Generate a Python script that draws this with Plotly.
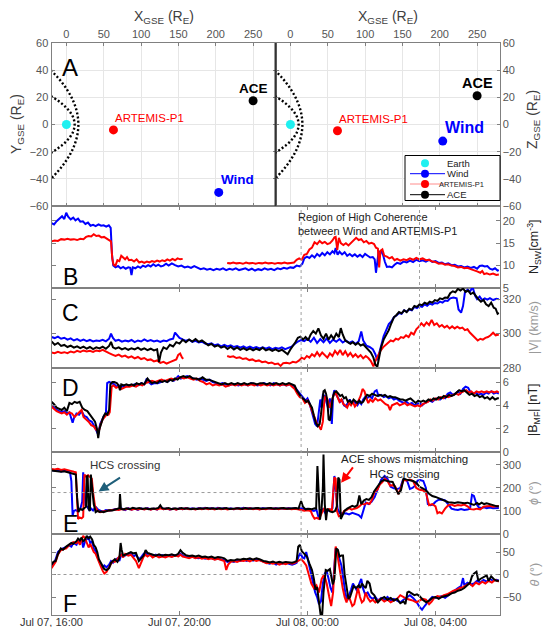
import pandas as pd
import plotly.graph_objects as go

W, H = 544, 627
FONT = "Liberation Sans, Arial, sans-serif"

START = pd.Timestamp("2023-07-07 16:00")

# ---------------- spacecraft positions (GSE, Earth radii) ----------------
POS_NAMES = ["Earth", "Wind", "ARTEMIS-P1", "ACE"]
POS_X = [0, 204, 63, 250]
POS_Y = [0, -50, -4, 17.5]
POS_Z = [0, -12.2, -4.6, 21.2]
COLORS = {"Earth": "#1ff0f0", "Wind": "#0000ff", "ARTEMIS-P1": "#ff0000", "ACE": "#000000"}

# nominal bow shock / magnetopause outlines
BOW_X = [-21, -12.2, -4.7, 1.6, 6.8, 10.8, 13.7, 15.4, 16, 15.4, 13.7, 10.8, 6.8, 1.6, -4.7, -12.2, -21]
BOW_Y = [40, 35, 30, 25, 20, 15, 10, 5, 0, -5, -10, -15, -20, -25, -30, -35, -40]
MP_X = [-21, -12.5, -5.3, 0.5, 5.1, 8.4, 10.3, 11, 10.3, 8.4, 5.1, 0.5, -5.3, -12.5, -21]
MP_Y = [21, 18, 15, 12, 9, 6, 3, 0, -3, -6, -9, -12, -15, -18, -21]

# ---------------- time series: (hours after Jul 07 16:00, value) ----------------
WIND_N = [(0.00,19.5),(0.08,19.2),(0.16,19.9),(0.25,20.6),(0.33,21.0),(0.40,20.4),(0.46,21.8),(0.52,20.9),(0.60,20.3),(0.68,20.7),(0.75,20.1),(0.83,20.5),(0.90,19.8),(0.98,19.9),(1.06,19.3),(1.14,19.6),(1.22,18.9),(1.30,19.1),(1.38,18.8),(1.47,19.2),(1.55,18.9),(1.63,19.0),(1.71,18.7),(1.79,19.0),(1.85,18.4),(1.89,12.5),(1.93,10.0),(2.00,9.6),(2.08,9.9),(2.16,9.4),(2.24,9.7),(2.32,9.3),(2.40,9.6),(2.46,9.5),(2.50,7.9),(2.54,9.6),(2.62,9.4),(2.70,9.8),(2.78,9.5),(2.86,10.0),(2.94,9.7),(3.02,10.1),(3.10,9.8),(3.18,10.3),(3.26,9.9),(3.34,10.2),(3.42,9.8),(3.50,10.0),(3.58,10.4),(3.66,10.0),(3.76,10.5),(3.86,10.1),(3.96,9.8),(4.06,10.0),(4.16,9.6),(4.26,9.8),(4.36,9.5),(4.46,9.9),(4.56,9.6),(4.66,9.2),(4.76,9.4),(4.86,9.1),(4.96,9.3),(5.06,9.0),(5.16,9.3),(5.26,9.1),(5.36,9.4),(5.46,9.0),(5.56,9.3),(5.66,9.1),(5.76,9.4),(5.86,9.0),(5.96,9.2),(6.06,9.4),(6.16,9.0),(6.26,9.3),(6.36,8.9),(6.46,9.2),(6.56,9.0),(6.66,9.4),(6.76,9.1),(6.86,9.3),(6.96,9.0),(7.06,9.4),(7.16,9.2),(7.26,9.5),(7.36,9.3),(7.46,9.6),(7.56,9.5),(7.66,10.0),(7.76,9.8),(7.84,10.4),(7.90,11.6),(7.98,12.0),(8.06,11.7),(8.14,12.3),(8.22,11.8),(8.30,12.6),(8.38,12.1),(8.46,12.8),(8.54,12.3),(8.62,13.0),(8.70,12.5),(8.78,13.2),(8.84,12.8),(8.88,13.9),(8.94,12.4),(9.00,13.1),(9.08,12.5),(9.16,13.0),(9.24,12.2),(9.32,12.6),(9.40,12.1),(9.48,12.5),(9.56,12.0),(9.64,12.4),(9.72,11.9),(9.80,12.6),(9.88,12.2),(9.96,11.8),(10.04,11.9),(10.10,11.4),(10.14,8.4),(10.18,10.5),(10.22,13.0),(10.30,13.2),(10.36,12.4),(10.42,10.8),(10.48,9.7),(10.56,9.8),(10.64,9.6),(10.72,10.2),(10.80,10.6),(10.90,10.4),(11.00,10.9),(11.10,10.7),(11.20,11.1),(11.30,10.8),(11.40,11.3),(11.50,11.0),(11.60,11.2),(11.70,10.9),(11.80,11.3),(11.90,10.8),(12.00,11.0),(12.10,10.6),(12.20,10.7),(12.30,10.3),(12.40,10.5),(12.50,10.1),(12.60,10.2),(12.70,9.8),(12.80,9.9),(12.90,9.6),(13.00,9.8),(13.10,9.5),(13.20,9.7),(13.30,9.3),(13.38,9.9),(13.46,10.0),(13.54,9.8),(13.62,9.9),(13.70,9.3),(13.78,9.1),(13.86,9.4),(13.94,8.9),(13.98,9.0)]

ARTEMIS_N = [(0.00,15.4),(0.10,15.6),(0.20,15.5),(0.30,15.9),(0.40,15.8),(0.50,16.0),(0.60,15.8),(0.70,15.9),(0.80,15.7),(0.90,16.0),(1.00,15.9),(1.08,16.4),(1.16,16.6),(1.24,16.5),(1.32,17.0),(1.40,16.6),(1.48,16.7),(1.56,16.3),(1.64,16.4),(1.72,16.0),(1.80,15.8),(1.86,15.4),(1.90,11.5),(1.94,10.2),(2.00,10.0),(2.06,11.2),(2.12,11.0),(2.18,12.2),(2.24,11.8),(2.30,11.4),(2.36,11.9),(2.42,11.2),(2.50,11.3),(2.58,10.9),(2.66,11.4),(2.74,10.7),(2.82,10.9),(2.90,10.6),(2.98,10.9),(3.06,10.7),(3.14,11.0),(3.22,10.8),(3.30,11.1),(3.38,10.9),(3.46,11.2),(3.54,11.0),(3.62,11.4),(3.70,11.1),(3.78,11.5),(3.86,11.2),(3.94,11.6),(4.02,11.4),(4.10,11.5),(4.14,None),(5.49,10.6),(5.58,10.5),(5.68,10.7),(5.78,10.5),(5.88,10.6),(5.98,10.4),(6.08,10.7),(6.18,10.5),(6.28,10.6),(6.38,10.4),(6.48,10.6),(6.58,10.5),(6.68,10.7),(6.78,10.5),(6.88,10.6),(6.98,10.4),(7.08,10.6),(7.18,10.5),(7.28,10.7),(7.38,10.5),(7.48,10.6),(7.58,10.7),(7.66,11.3),(7.74,11.6),(7.82,11.3),(7.90,12.4),(7.98,12.6),(8.06,13.6),(8.14,14.0),(8.22,15.2),(8.30,14.8),(8.38,15.5),(8.46,15.0),(8.54,15.3),(8.62,14.8),(8.70,15.0),(8.78,15.6),(8.84,16.3),(8.88,16.4),(8.93,13.5),(8.98,16.2),(9.04,15.0),(9.12,14.6),(9.20,15.0),(9.28,14.5),(9.36,15.1),(9.44,15.5),(9.52,16.2),(9.60,15.7),(9.68,15.9),(9.76,15.2),(9.84,15.5),(9.92,14.9),(10.00,15.1),(10.08,14.8),(10.14,14.0),(10.20,13.8),(10.24,9.6),(10.28,13.3),(10.34,13.6),(10.40,12.2),(10.48,12.0),(10.56,11.6),(10.64,11.9),(10.72,11.2),(10.80,11.5),(10.90,11.1),(11.00,11.4),(11.10,11.2),(11.20,11.6),(11.30,11.3),(11.40,11.7),(11.50,11.4),(11.60,11.6),(11.70,11.2),(11.80,11.3),(11.90,10.9),(12.00,10.8),(12.10,10.4),(12.20,10.5),(12.30,10.2),(12.40,10.3),(12.50,10.0),(12.60,9.9),(12.70,9.6),(12.80,9.7),(12.90,9.4),(13.00,9.5),(13.10,9.2),(13.20,9.0),(13.30,8.7),(13.40,8.4),(13.46,8.8),(13.52,8.1),(13.60,8.3),(13.70,8.0),(13.80,8.2),(13.90,7.9),(13.98,8.0)]

WIND_V = [(0.00,298.0),(0.10,297.4),(0.20,298.2),(0.30,297.0),(0.40,297.6),(0.50,296.5),(0.60,297.2),(0.70,296.0),(0.80,296.8),(0.90,295.8),(1.00,296.5),(1.10,295.6),(1.20,296.3),(1.30,295.4),(1.40,296.0),(1.50,295.7),(1.60,296.4),(1.70,295.5),(1.80,297.0),(1.86,300.0),(1.92,297.5),(2.00,295.8),(2.10,296.4),(2.20,295.3),(2.30,296.0),(2.40,295.5),(2.50,296.3),(2.60,295.0),(2.70,296.0),(2.80,295.4),(2.90,296.6),(3.00,295.6),(3.10,296.2),(3.20,295.4),(3.30,296.0),(3.40,295.2),(3.50,296.0),(3.60,295.6),(3.70,296.6),(3.80,297.0),(3.86,300.6),(3.92,299.5),(4.00,297.5),(4.10,296.6),(4.20,295.8),(4.30,296.4),(4.40,295.2),(4.50,295.8),(4.60,294.8),(4.70,295.3),(4.80,294.2),(4.90,293.8),(5.00,294.4),(5.10,293.2),(5.20,293.8),(5.30,292.6),(5.40,293.4),(5.50,292.5),(5.60,293.2),(5.70,292.2),(5.80,292.8),(5.90,291.8),(6.00,292.6),(6.10,291.6),(6.20,292.4),(6.30,291.5),(6.40,292.2),(6.50,291.4),(6.60,292.0),(6.70,291.2),(6.80,292.0),(6.90,291.0),(7.00,291.8),(7.10,291.2),(7.20,292.0),(7.30,291.0),(7.40,291.6),(7.50,292.4),(7.60,294.0),(7.70,295.4),(7.80,296.2),(7.90,295.6),(8.00,297.0),(8.10,295.2),(8.20,297.6),(8.30,294.5),(8.40,296.8),(8.50,295.0),(8.60,297.2),(8.70,294.6),(8.80,296.5),(8.90,295.2),(9.00,296.8),(9.10,294.8),(9.20,296.0),(9.30,294.6),(9.40,295.4),(9.50,294.0),(9.60,295.6),(9.68,301.2),(9.74,296.0),(9.84,293.0),(9.94,292.2),(10.04,291.0),(10.12,288.0),(10.18,284.5),(10.24,288.5),(10.30,293.0),(10.38,298.5),(10.46,302.0),(10.54,305.5),(10.62,307.0),(10.70,309.5),(10.78,310.5),(10.86,312.0),(10.94,311.5),(11.02,313.5),(11.10,312.8),(11.18,314.0),(11.26,313.5),(11.34,315.5),(11.42,314.8),(11.50,316.0),(11.58,315.5),(11.66,317.0),(11.74,316.2),(11.82,317.5),(11.90,316.8),(11.98,317.8),(12.06,317.5),(12.14,318.6),(12.22,318.0),(12.30,319.2),(12.38,319.0),(12.46,320.5),(12.56,321.0),(12.66,320.5),(12.72,314.0),(12.80,312.2),(12.86,316.0),(12.92,324.0),(13.00,325.5),(13.08,324.5),(13.16,327.0),(13.24,322.0),(13.30,320.0),(13.38,321.5),(13.46,319.5),(13.54,320.5),(13.62,319.8),(13.70,320.6),(13.80,319.5),(13.90,320.2),(13.98,320.0)]

ACE_V = [(0.00,295.5),(0.10,293.5),(0.20,294.6),(0.30,292.8),(0.40,293.4),(0.50,292.2),(0.60,293.0),(0.70,291.8),(0.80,292.6),(0.90,291.5),(1.00,292.4),(1.10,291.3),(1.20,292.2),(1.30,291.0),(1.40,292.0),(1.50,291.4),(1.60,292.4),(1.70,291.2),(1.80,292.8),(1.86,295.2),(1.92,292.0),(2.00,291.2),(2.10,292.0),(2.20,290.8),(2.30,291.6),(2.40,290.6),(2.50,291.5),(2.60,290.8),(2.70,291.8),(2.80,290.6),(2.90,291.4),(3.00,290.4),(3.10,291.2),(3.20,290.2),(3.30,290.8),(3.36,283.5),(3.42,289.0),(3.50,292.0),(3.60,291.0),(3.70,293.5),(3.80,292.5),(3.90,295.0),(4.00,294.2),(4.10,296.4),(4.20,295.0),(4.30,296.6),(4.40,295.4),(4.50,296.8),(4.60,295.2),(4.70,296.0),(4.80,294.6),(4.90,293.2),(5.00,294.0),(5.10,292.4),(5.20,293.2),(5.30,291.8),(5.40,292.6),(5.50,291.0),(5.60,292.4),(5.70,290.8),(5.80,292.0),(5.90,290.6),(6.00,291.6),(6.10,290.4),(6.20,291.4),(6.30,290.2),(6.40,291.2),(6.50,290.4),(6.60,291.8),(6.70,290.2),(6.80,291.0),(6.90,290.0),(7.00,290.8),(7.10,289.8),(7.20,290.6),(7.30,289.4),(7.38,288.0),(7.46,290.6),(7.54,292.5),(7.62,295.0),(7.70,297.6),(7.78,298.2),(7.86,296.5),(7.94,298.0),(8.02,296.0),(8.10,299.5),(8.18,301.5),(8.26,300.0),(8.34,303.0),(8.42,299.0),(8.50,297.0),(8.58,300.0),(8.66,296.5),(8.74,299.0),(8.82,297.0),(8.90,300.0),(8.98,298.0),(9.04,303.2),(9.10,299.5),(9.18,296.0),(9.26,295.0),(9.34,294.0),(9.42,295.0),(9.50,293.5),(9.58,294.6),(9.66,293.0),(9.74,293.8),(9.82,292.4),(9.90,290.5),(9.98,289.0),(10.06,286.0),(10.12,282.0),(10.18,280.6),(10.24,286.0),(10.30,292.0),(10.38,296.5),(10.46,299.0),(10.54,302.0),(10.62,306.0),(10.70,309.5),(10.78,310.8),(10.86,312.5),(10.94,311.8),(11.02,313.5),(11.10,312.5),(11.18,314.5),(11.26,313.8),(11.34,316.0),(11.42,315.5),(11.50,317.0),(11.58,316.5),(11.66,318.0),(11.74,317.2),(11.82,318.6),(11.90,318.0),(11.98,319.5),(12.06,319.0),(12.14,320.5),(12.22,320.0),(12.30,321.0),(12.38,320.8),(12.46,323.5),(12.54,324.6),(12.62,324.0),(12.70,326.0),(12.78,325.0),(12.86,326.2),(12.94,324.2),(13.02,325.0),(13.10,323.0),(13.18,323.8),(13.26,321.5),(13.34,320.0),(13.42,318.5),(13.50,319.5),(13.58,317.0),(13.66,316.0),(13.74,318.0),(13.82,315.0),(13.88,314.5),(13.94,311.5),(13.98,312.0)]

ARTEMIS_V = [(0.00,289.0),(0.10,288.6),(0.20,289.4),(0.30,288.8),(0.40,289.2),(0.50,288.6),(0.60,289.6),(0.70,289.0),(0.80,290.0),(0.90,289.4),(1.00,290.2),(1.10,289.6),(1.20,290.0),(1.30,289.4),(1.40,290.2),(1.50,289.8),(1.60,290.6),(1.70,289.4),(1.80,288.6),(1.90,287.8),(2.00,287.0),(2.10,287.8),(2.20,286.6),(2.30,287.2),(2.40,286.0),(2.50,286.8),(2.60,285.6),(2.70,286.4),(2.80,285.2),(2.90,285.8),(3.00,284.6),(3.10,285.0),(3.20,283.8),(3.30,284.4),(3.40,283.0),(3.50,283.6),(3.60,282.6),(3.70,283.4),(3.80,284.0),(3.90,285.0),(3.96,287.6),(4.02,288.4),(4.08,286.0),(4.12,285.4),(4.16,None),(5.49,287.0),(5.58,286.4),(5.68,286.8),(5.78,285.8),(5.88,286.2),(5.98,285.2),(6.08,285.6),(6.18,284.6),(6.28,285.0),(6.38,284.0),(6.48,284.4),(6.58,283.4),(6.68,283.8),(6.78,282.8),(6.88,283.2),(6.98,282.2),(7.08,282.6),(7.16,281.2),(7.24,282.8),(7.34,283.0),(7.44,282.6),(7.54,283.6),(7.64,283.2),(7.74,284.4),(7.82,286.0),(7.90,285.2),(7.98,287.0),(8.06,286.0),(8.14,288.0),(8.22,286.8),(8.30,289.2),(8.38,287.0),(8.46,289.0),(8.54,287.6),(8.62,286.0),(8.70,288.5),(8.78,287.0),(8.86,290.0),(8.94,288.0),(9.02,290.5),(9.10,287.5),(9.18,289.8),(9.26,287.0),(9.34,288.8),(9.42,286.5),(9.50,288.0),(9.58,286.2),(9.66,287.5),(9.74,285.6),(9.82,287.0),(9.90,285.8),(9.98,284.0),(10.06,281.0),(10.12,284.0),(10.20,287.5),(10.28,290.0),(10.36,292.0),(10.44,293.5),(10.52,294.5),(10.60,296.0),(10.68,295.5),(10.76,297.0),(10.84,296.5),(10.92,298.0),(11.00,297.5),(11.08,299.0),(11.16,298.0),(11.24,300.5),(11.32,299.5),(11.40,302.5),(11.48,304.0),(11.56,306.0),(11.64,304.5),(11.72,306.5),(11.80,305.0),(11.88,308.0),(11.96,305.0),(12.04,306.0),(12.12,304.0),(12.20,305.0),(12.28,303.5),(12.36,304.5),(12.44,303.0),(12.52,304.2),(12.60,303.0),(12.68,304.0),(12.76,303.0),(12.84,303.5),(12.92,302.0),(13.00,302.5),(13.08,300.5),(13.16,299.0),(13.24,297.0),(13.32,296.0),(13.40,297.0),(13.48,296.5),(13.56,297.5),(13.64,298.0),(13.72,299.0),(13.80,300.5),(13.88,299.0),(13.98,299.5)]

ACE_B = [(0.00,4.3),(0.08,4.1),(0.16,3.8),(0.24,3.7),(0.32,3.6),(0.40,3.8),(0.48,3.5),(0.56,4.2),(0.64,4.1),(0.72,4.3),(0.80,4.2),(0.88,4.3),(0.96,3.8),(1.04,3.6),(1.12,3.5),(1.20,3.2),(1.28,2.9),(1.36,2.6),(1.42,2.0),(1.46,1.2),(1.50,2.0),(1.56,2.6),(1.62,3.0),(1.68,3.3),(1.74,3.2),(1.80,3.6),(1.84,5.8),(1.90,6.0),(1.96,6.0),(2.04,5.9),(2.10,5.7),(2.14,5.3),(2.18,5.8),(2.26,5.7),(2.34,5.8),(2.42,5.7),(2.50,5.8),(2.58,5.7),(2.66,5.9),(2.74,5.8),(2.82,5.9),(2.90,5.8),(3.00,6.3),(3.06,6.1),(3.14,5.9),(3.22,6.0),(3.30,5.9),(3.38,6.1),(3.46,6.0),(3.54,6.1),(3.62,6.0),(3.70,6.2),(3.78,6.1),(3.86,6.3),(3.94,6.2),(4.02,6.4),(4.12,6.5),(4.22,6.4),(4.32,6.5),(4.42,6.3),(4.52,6.3),(4.62,6.2),(4.72,6.4),(4.82,6.2),(4.92,6.2),(5.02,6.1),(5.12,6.0),(5.22,5.9),(5.32,5.8),(5.42,5.9),(5.52,5.8),(5.62,5.9),(5.72,5.8),(5.82,5.9),(5.92,5.8),(6.02,5.9),(6.12,5.8),(6.22,5.9),(6.32,5.9),(6.42,5.8),(6.52,5.9),(6.62,5.9),(6.72,5.8),(6.82,5.9),(6.92,5.8),(7.02,5.9),(7.12,5.8),(7.22,5.9),(7.32,5.8),(7.42,5.9),(7.52,5.8),(7.60,5.7),(7.66,5.3),(7.72,5.0),(7.78,4.8),(7.84,4.6),(7.90,4.5),(7.96,4.3),(8.02,4.4),(8.08,4.1),(8.14,3.8),(8.20,3.1),(8.26,2.5),(8.32,2.2),(8.38,2.4),(8.42,3.2),(8.46,4.6),(8.50,5.2),(8.54,5.3),(8.58,5.0),(8.62,4.4),(8.66,2.8),(8.70,2.7),(8.74,3.4),(8.78,4.6),(8.84,5.1),(8.90,5.2),(8.96,5.0),(9.02,4.8),(9.08,4.9),(9.14,4.6),(9.20,4.7),(9.26,4.3),(9.32,4.4),(9.38,4.2),(9.44,4.5),(9.50,4.3),(9.56,4.2),(9.62,4.4),(9.68,4.2),(9.74,4.3),(9.80,4.6),(9.86,4.9),(9.94,4.8),(10.02,5.0),(10.10,4.9),(10.18,4.8),(10.26,4.9),(10.34,4.8),(10.42,4.9),(10.50,4.7),(10.58,4.8),(10.66,4.7),(10.74,4.7),(10.82,4.6),(10.90,4.5),(10.98,4.5),(11.06,4.4),(11.14,4.5),(11.22,4.6),(11.30,4.4),(11.38,4.2),(11.46,4.4),(11.54,4.3),(11.62,4.4),(11.70,4.3),(11.78,4.5),(11.86,4.4),(11.94,4.6),(12.02,4.5),(12.10,4.7),(12.18,4.6),(12.26,4.8),(12.34,4.7),(12.42,4.9),(12.50,4.8),(12.58,4.9),(12.66,5.1),(12.74,5.3),(12.82,5.2),(12.90,5.3),(12.98,5.1),(13.06,4.9),(13.14,5.0),(13.22,4.8),(13.30,4.9),(13.38,4.7),(13.46,4.8),(13.54,4.6),(13.62,4.7),(13.70,4.5),(13.78,4.7),(13.86,4.5),(13.94,4.6),(13.98,4.6)]

WIND_B = [(0.00,4.0),(0.08,3.8),(0.16,3.6),(0.24,3.5),(0.32,3.4),(0.40,3.5),(0.48,3.3),(0.56,3.4),(0.62,2.9),(0.66,2.5),(0.70,2.9),(0.78,3.3),(0.86,3.2),(0.94,3.5),(1.02,3.1),(1.10,3.0),(1.18,2.7),(1.26,2.6),(1.34,2.2),(1.40,1.8),(1.46,1.5),(1.52,2.4),(1.58,2.8),(1.64,3.1),(1.70,3.3),(1.74,5.9),(1.80,6.0),(1.88,5.9),(1.96,5.8),(2.04,5.6),(2.10,5.7),(2.16,5.4),(2.22,5.7),(2.30,5.6),(2.40,5.7),(2.50,5.7),(2.60,5.8),(2.70,5.7),(2.80,5.9),(2.90,5.8),(2.98,6.3),(3.04,6.0),(3.12,5.8),(3.22,5.9),(3.32,5.9),(3.42,6.0),(3.52,6.1),(3.62,6.0),(3.72,6.2),(3.82,6.1),(3.90,6.3),(3.96,6.5),(4.04,6.3),(4.14,6.4),(4.24,6.5),(4.34,6.4),(4.44,6.3),(4.54,6.2),(4.64,6.3),(4.74,6.2),(4.84,6.1),(4.94,6.2),(5.04,6.0),(5.14,5.9),(5.24,5.8),(5.34,5.9),(5.44,5.8),(5.54,5.7),(5.64,5.8),(5.74,5.8),(5.84,5.7),(5.94,5.8),(6.04,5.8),(6.14,5.7),(6.24,5.9),(6.34,5.8),(6.44,5.7),(6.54,5.8),(6.64,5.9),(6.74,5.8),(6.84,5.7),(6.94,5.9),(7.04,5.8),(7.14,5.7),(7.24,5.8),(7.34,5.7),(7.44,5.8),(7.54,5.7),(7.62,5.5),(7.70,5.2),(7.78,4.9),(7.86,4.7),(7.94,4.4),(8.00,4.6),(8.06,4.2),(8.12,3.6),(8.18,3.0),(8.24,2.4),(8.30,2.2),(8.36,3.6),(8.40,4.5),(8.44,3.8),(8.48,4.9),(8.54,4.8),(8.60,4.2),(8.64,3.8),(8.70,4.6),(8.76,2.4),(8.80,4.8),(8.84,5.3),(8.90,4.9),(8.96,4.6),(9.02,4.3),(9.08,4.5),(9.14,4.0),(9.20,3.9),(9.26,4.2),(9.32,4.5),(9.38,4.2),(9.44,4.4),(9.50,4.2),(9.56,4.0),(9.62,4.3),(9.68,4.1),(9.74,4.5),(9.80,4.7),(9.86,4.6),(9.94,4.8),(10.02,4.6),(10.10,5.2),(10.16,5.3),(10.22,4.8),(10.30,4.9),(10.38,4.7),(10.46,4.8),(10.54,4.6),(10.62,4.7),(10.70,4.5),(10.78,4.6),(10.86,4.4),(10.94,4.3),(11.02,4.2),(11.10,4.3),(11.18,4.1),(11.26,4.2),(11.34,4.0),(11.42,4.1),(11.50,4.2),(11.58,4.0),(11.66,4.2),(11.74,4.3),(11.82,4.4),(11.90,4.3),(11.98,4.5),(12.06,4.6),(12.14,4.5),(12.22,4.7),(12.30,4.6),(12.38,5.0),(12.46,5.1),(12.54,4.9),(12.62,5.0),(12.70,5.2),(12.78,5.0),(12.86,5.4),(12.94,5.6),(13.02,5.5),(13.10,5.1),(13.18,5.0),(13.26,5.1),(13.34,4.9),(13.42,5.0),(13.50,4.9),(13.58,5.1),(13.66,5.0),(13.74,5.2),(13.82,5.0),(13.90,5.1),(13.98,5.0)]

ARTEMIS_B = [(0.00,3.9),(0.08,3.7),(0.16,3.5),(0.24,3.4),(0.32,3.3),(0.40,3.4),(0.48,3.2),(0.56,3.4),(0.64,3.3),(0.72,3.0),(0.80,3.2),(0.88,3.4),(0.94,3.6),(1.00,3.0),(1.08,2.8),(1.16,2.6),(1.24,2.3),(1.32,2.2),(1.40,1.9),(1.48,1.8),(1.54,2.4),(1.60,2.8),(1.66,3.0),(1.72,3.2),(1.78,3.2),(1.82,3.4),(1.88,5.6),(1.94,5.7),(2.02,5.5),(2.10,5.6),(2.18,5.4),(2.26,5.5),(2.34,5.6),(2.44,5.6),(2.54,5.7),(2.64,5.6),(2.74,5.8),(2.84,5.7),(2.94,5.9),(3.04,6.0),(3.14,6.1),(3.24,6.0),(3.34,6.1),(3.44,6.2),(3.54,6.1),(3.64,6.2),(3.74,6.3),(3.84,6.2),(3.94,6.3),(4.04,6.4),(4.14,6.3),(4.24,6.4),(4.34,6.3),(4.44,6.2),(4.54,6.3),(4.64,6.1),(4.74,6.0),(4.84,5.8),(4.94,5.9),(5.04,5.7),(5.14,5.8),(5.24,5.7),(5.34,5.8),(5.44,5.6),(5.54,5.7),(5.64,5.8),(5.74,5.7),(5.84,5.8),(5.94,5.7),(6.04,5.8),(6.14,5.7),(6.24,5.8),(6.34,5.7),(6.44,5.8),(6.54,5.7),(6.64,5.8),(6.74,5.7),(6.84,5.8),(6.94,5.7),(7.04,5.8),(7.14,5.7),(7.24,5.8),(7.34,5.7),(7.44,5.8),(7.52,5.6),(7.60,5.4),(7.68,5.0),(7.76,4.7),(7.84,4.6),(7.92,4.2),(8.00,4.4),(8.08,4.0),(8.16,3.4),(8.24,2.8),(8.30,2.4),(8.36,2.2),(8.42,1.9),(8.48,2.6),(8.52,4.2),(8.56,4.8),(8.62,4.5),(8.70,3.8),(8.76,4.4),(8.82,4.9),(8.88,5.1),(8.94,4.7),(9.00,4.3),(9.06,4.5),(9.12,4.1),(9.18,4.0),(9.24,3.8),(9.30,4.2),(9.36,4.0),(9.42,4.3),(9.48,3.9),(9.54,4.1),(9.60,4.4),(9.66,4.8),(9.72,5.4),(9.78,5.2),(9.84,4.6),(9.90,4.2),(9.96,4.5),(10.04,4.3),(10.12,4.6),(10.20,4.4),(10.28,4.5),(10.36,4.3),(10.44,4.1),(10.52,4.0),(10.58,3.6),(10.64,4.0),(10.72,4.1),(10.80,4.2),(10.88,4.0),(10.96,4.1),(11.04,4.2),(11.12,4.0),(11.20,4.1),(11.28,4.0),(11.36,3.9),(11.44,4.0),(11.52,3.9),(11.60,4.1),(11.68,4.2),(11.76,4.3),(11.84,4.5),(11.92,4.4),(12.00,4.6),(12.08,4.5),(12.16,4.7),(12.24,4.6),(12.32,4.8),(12.40,4.7),(12.48,4.8),(12.56,4.9),(12.64,5.0),(12.72,4.9),(12.80,5.1),(12.88,5.2),(12.96,5.3),(13.04,5.1),(13.12,5.2),(13.20,5.0),(13.28,5.2),(13.36,5.1),(13.44,5.2),(13.52,5.1),(13.60,5.2),(13.68,5.1),(13.76,5.2),(13.84,5.1),(13.92,5.2),(13.98,5.1)]

ACE_PHI = [(0.00,276),(0.10,274),(0.20,272),(0.30,270),(0.40,272),(0.50,268),(0.60,266),(0.70,262),(0.76,258),(0.80,160),(0.84,95),(0.90,110),(0.96,104),(1.02,112),(1.08,118),(1.10,250),(1.13,252),(1.16,110),(1.20,100),(1.23,258),(1.27,200),(1.32,130),(1.38,95),(1.44,100),(1.50,96),(1.56,98),(1.62,95),(1.70,100),(1.80,103),(1.90,102),(2.00,106),(2.08,108),(2.12,112),(2.14,173),(2.17,110),(2.24,107),(2.34,112),(2.44,108),(2.54,114),(2.64,110),(2.74,113),(2.84,109),(2.94,112),(3.04,108),(3.14,111),(3.24,110),(3.34,113),(3.40,125),(3.46,112),(3.56,110),(3.66,113),(3.76,108),(3.86,112),(3.96,109),(4.06,113),(4.16,110),(4.26,112),(4.36,108),(4.46,111),(4.56,109),(4.66,112),(4.76,110),(4.86,113),(4.96,110),(5.06,112),(5.16,109),(5.26,112),(5.36,110),(5.46,113),(5.56,109),(5.66,111),(5.76,110),(5.86,112),(5.96,109),(6.06,113),(6.16,110),(6.26,112),(6.36,111),(6.46,113),(6.56,110),(6.66,112),(6.76,111),(6.86,113),(6.96,110),(7.06,112),(7.16,111),(7.26,113),(7.36,110),(7.46,112),(7.56,111),(7.64,113),(7.72,110),(7.80,143),(7.86,118),(7.94,107),(8.04,110),(8.14,108),(8.22,112),(8.27,110),(8.31,295),(8.35,150),(8.39,62),(8.44,110),(8.48,200),(8.50,345),(8.54,130),(8.58,60),(8.62,110),(8.70,98),(8.78,95),(8.86,100),(8.92,120),(8.96,245),(9.00,235),(9.04,65),(9.10,80),(9.16,101),(9.24,110),(9.32,118),(9.40,122),(9.48,118),(9.56,125),(9.62,167),(9.68,130),(9.76,145),(9.84,152),(9.92,148),(10.00,160),(10.08,185),(10.14,198),(10.22,212),(10.30,228),(10.38,234),(10.46,230),(10.56,228),(10.66,226),(10.76,200),(10.84,173),(10.92,190),(11.00,240),(11.10,236),(11.20,234),(11.30,230),(11.40,222),(11.50,205),(11.60,198),(11.70,190),(11.80,175),(11.90,165),(12.00,161),(12.10,155),(12.20,148),(12.30,142),(12.40,138),(12.50,137),(12.60,135),(12.70,138),(12.80,136),(12.90,134),(13.00,136),(13.10,130),(13.20,126),(13.30,135),(13.36,128),(13.44,136),(13.52,130),(13.60,133),(13.70,128),(13.80,124),(13.90,121),(13.98,120)]

WIND_PHI = [(0.00,278),(0.10,275),(0.20,277),(0.30,272),(0.40,274),(0.50,270),(0.58,268),(0.62,230),(0.66,80),(0.70,100),(0.76,104),(0.82,98),(0.90,110),(0.96,140),(0.99,268),(1.03,200),(1.06,125),(1.12,118),(1.18,104),(1.24,110),(1.30,102),(1.38,118),(1.46,106),(1.54,100),(1.62,98),(1.70,104),(1.80,102),(1.90,104),(2.00,108),(2.10,106),(2.20,110),(2.30,104),(2.40,112),(2.50,106),(2.60,110),(2.70,105),(2.80,112),(2.90,108),(3.00,113),(3.10,107),(3.20,111),(3.30,106),(3.40,118),(3.50,108),(3.60,112),(3.70,106),(3.80,111),(3.90,107),(4.00,112),(4.10,108),(4.20,113),(4.30,109),(4.40,112),(4.50,108),(4.60,113),(4.70,110),(4.80,114),(4.90,110),(5.00,113),(5.10,109),(5.20,114),(5.30,110),(5.40,113),(5.50,109),(5.60,112),(5.70,108),(5.80,113),(5.90,110),(6.00,114),(6.10,111),(6.20,113),(6.30,109),(6.40,112),(6.50,108),(6.60,113),(6.70,110),(6.80,112),(6.90,109),(7.00,113),(7.10,110),(7.20,112),(7.30,109),(7.40,113),(7.50,110),(7.60,112),(7.70,109),(7.80,112),(7.90,108),(8.00,110),(8.10,104),(8.20,100),(8.28,105),(8.36,65),(8.42,95),(8.48,110),(8.56,90),(8.62,100),(8.70,104),(8.78,112),(8.84,252),(8.88,200),(8.94,110),(9.00,92),(9.10,88),(9.20,90),(9.30,85),(9.40,92),(9.50,86),(9.60,82),(9.68,71),(9.74,100),(9.82,137),(9.90,130),(10.00,140),(10.10,160),(10.20,200),(10.30,235),(10.41,252),(10.50,240),(10.60,205),(10.70,198),(10.80,195),(10.90,200),(10.98,234),(11.06,236),(11.12,228),(11.20,196),(11.28,200),(11.36,210),(11.44,232),(11.52,234),(11.62,230),(11.70,200),(11.76,130),(11.84,125),(11.92,128),(12.00,140),(12.10,149),(12.20,150),(12.30,146),(12.40,130),(12.50,110),(12.60,106),(12.70,104),(12.80,108),(12.90,104),(13.00,106),(13.08,110),(13.14,170),(13.20,165),(13.28,130),(13.36,115),(13.44,113),(13.52,116),(13.60,112),(13.70,115),(13.80,112),(13.90,114),(13.98,113)]

ARTEMIS_PHI = [(0.00,282),(0.10,280),(0.20,283),(0.30,278),(0.40,281),(0.50,276),(0.60,274),(0.70,270),(0.76,268),(0.80,150),(0.83,65),(0.88,72),(0.94,68),(0.99,75),(1.03,258),(1.08,250),(1.14,255),(1.20,248),(1.26,240),(1.30,180),(1.36,120),(1.44,101),(1.52,95),(1.60,98),(1.70,100),(1.80,104),(1.90,103),(2.00,106),(2.10,104),(2.20,108),(2.30,106),(2.40,110),(2.50,105),(2.60,109),(2.70,106),(2.80,110),(2.90,107),(3.00,111),(3.10,106),(3.20,110),(3.30,107),(3.40,112),(3.50,108),(3.60,111),(3.70,107),(3.80,110),(3.90,106),(4.00,111),(4.10,108),(4.20,112),(4.30,108),(4.40,110),(4.50,107),(4.60,111),(4.70,108),(4.80,112),(4.90,108),(5.00,111),(5.10,107),(5.20,112),(5.30,108),(5.40,111),(5.50,107),(5.60,110),(5.70,108),(5.80,112),(5.90,108),(6.00,111),(6.10,109),(6.20,112),(6.30,108),(6.40,111),(6.50,107),(6.60,110),(6.70,108),(6.80,112),(6.90,109),(7.00,111),(7.10,108),(7.20,112),(7.30,109),(7.40,111),(7.50,108),(7.60,110),(7.70,107),(7.80,104),(7.90,101),(8.00,103),(8.10,100),(8.16,80),(8.22,66),(8.28,70),(8.36,65),(8.44,90),(8.52,110),(8.60,104),(8.68,108),(8.76,100),(8.80,180),(8.84,246),(8.88,240),(8.92,100),(8.98,77),(9.06,80),(9.14,100),(9.22,104),(9.30,112),(9.38,106),(9.46,110),(9.54,113),(9.62,120),(9.70,131),(9.78,128),(9.86,135),(9.94,130),(10.02,150),(10.10,185),(10.18,192),(10.26,215),(10.34,225),(10.42,240),(10.50,230),(10.58,210),(10.66,212),(10.74,206),(10.84,173),(10.92,200),(11.00,234),(11.10,232),(11.20,236),(11.30,230),(11.40,200),(11.50,192),(11.60,190),(11.70,180),(11.80,125),(11.90,130),(12.00,120),(12.06,90),(12.12,95),(12.20,89),(12.30,110),(12.40,125),(12.50,128),(12.60,122),(12.70,126),(12.80,124),(12.90,128),(13.00,120),(13.10,108),(13.20,106),(13.30,110),(13.40,107),(13.50,118),(13.60,120),(13.70,122),(13.80,118),(13.90,121),(13.98,120)]

ACE_THETA = [(0.00,22),(0.06,28),(0.13,30),(0.20,45),(0.29,58),(0.36,55),(0.46,62),(0.56,66),(0.62,70),(0.68,68),(0.78,74),(0.83,80),(0.89,76),(0.94,82),(0.99,74),(1.05,78),(1.10,86),(1.16,80),(1.21,84),(1.27,78),(1.32,66),(1.38,60),(1.43,50),(1.48,34),(1.54,26),(1.60,18),(1.65,12),(1.72,10),(1.80,14),(1.86,26),(1.92,30),(1.98,34),(2.06,28),(2.12,36),(2.16,70),(2.19,55),(2.24,42),(2.30,44),(2.40,46),(2.48,50),(2.56,47),(2.64,48),(2.73,30),(2.80,36),(2.88,42),(2.94,54),(3.00,48),(3.08,46),(3.16,44),(3.26,42),(3.36,45),(3.46,42),(3.56,44),(3.66,43),(3.76,45),(3.86,42),(3.96,46),(4.03,54),(4.10,48),(4.20,43),(4.30,41),(4.40,42),(4.50,40),(4.60,42),(4.70,39),(4.80,40),(4.90,38),(5.00,40),(5.10,37),(5.20,39),(5.30,38),(5.40,36),(5.50,30),(5.60,32),(5.70,31),(5.80,34),(5.90,33),(6.00,35),(6.10,34),(6.20,36),(6.30,33),(6.40,36),(6.50,34),(6.62,30),(6.72,29),(6.82,27),(6.92,29),(7.02,26),(7.12,28),(7.22,26),(7.32,28),(7.42,27),(7.52,26),(7.60,28),(7.66,30),(7.71,62),(7.76,66),(7.82,52),(7.90,46),(7.98,40),(8.06,24),(8.14,10),(8.20,-10),(8.25,-34),(8.30,-28),(8.36,-60),(8.41,-90),(8.46,-88),(8.50,-40),(8.57,10),(8.63,8),(8.70,12),(8.79,-22),(8.84,-10),(8.90,58),(8.95,55),(9.00,40),(9.06,42),(9.11,42),(9.16,0),(9.22,-30),(9.28,-54),(9.33,-50),(9.38,-40),(9.44,-26),(9.52,-30),(9.60,-24),(9.65,-30),(9.70,-20),(9.76,-26),(9.82,-30),(9.87,-14),(9.94,-20),(10.00,-40),(10.09,-46),(10.14,-56),(10.20,-62),(10.30,-54),(10.40,-50),(10.50,-56),(10.60,-52),(10.70,-58),(10.80,-54),(10.90,-64),(11.00,-60),(11.06,-66),(11.12,-40),(11.17,-38),(11.26,-42),(11.34,-46),(11.42,-44),(11.50,-48),(11.60,-56),(11.71,-62),(11.80,-58),(11.90,-52),(12.00,-50),(12.10,-54),(12.20,-50),(12.30,-48),(12.40,-46),(12.50,-42),(12.60,-40),(12.70,-36),(12.80,-34),(12.90,-30),(13.00,-22),(13.08,-18),(13.14,-4),(13.20,2),(13.28,6),(13.34,-14),(13.40,-10),(13.50,-6),(13.60,-2),(13.66,-14),(13.74,-4),(13.82,-10),(13.90,-14),(13.98,-14)]

WIND_THETA = [(0.00,18),(0.06,24),(0.13,34),(0.20,50),(0.29,56),(0.36,58),(0.46,60),(0.56,64),(0.62,62),(0.68,70),(0.78,66),(0.83,76),(0.89,72),(0.94,80),(0.99,60),(1.05,74),(1.10,78),(1.16,82),(1.21,70),(1.27,74),(1.32,58),(1.38,52),(1.43,40),(1.48,30),(1.54,22),(1.60,16),(1.65,20),(1.72,16),(1.80,22),(1.86,30),(1.92,26),(1.98,32),(2.06,36),(2.12,30),(2.19,46),(2.24,40),(2.30,42),(2.40,44),(2.48,48),(2.56,40),(2.64,44),(2.73,34),(2.80,38),(2.88,46),(2.94,48),(3.00,42),(3.08,44),(3.16,40),(3.26,44),(3.36,40),(3.46,43),(3.56,40),(3.66,42),(3.76,40),(3.86,43),(3.96,41),(4.03,46),(4.10,42),(4.20,40),(4.30,38),(4.40,40),(4.50,37),(4.60,36),(4.70,38),(4.80,35),(4.90,37),(5.00,36),(5.10,34),(5.20,35),(5.30,34),(5.40,32),(5.50,28),(5.60,30),(5.70,28),(5.80,32),(5.90,30),(6.00,33),(6.10,30),(6.20,34),(6.30,31),(6.40,35),(6.50,32),(6.62,28),(6.72,26),(6.82,24),(6.92,27),(7.02,22),(7.12,26),(7.22,24),(7.32,27),(7.42,24),(7.52,22),(7.60,24),(7.66,26),(7.72,40),(7.78,48),(7.84,38),(7.90,36),(7.96,50),(8.02,30),(8.10,5),(8.18,-20),(8.24,-40),(8.30,-50),(8.36,-66),(8.42,-60),(8.48,-20),(8.54,2),(8.60,8),(8.66,-10),(8.72,-30),(8.78,-40),(8.84,20),(8.88,58),(8.94,48),(9.00,36),(9.06,20),(9.12,-10),(9.18,-40),(9.24,-58),(9.30,-48),(9.36,-34),(9.42,-20),(9.48,-28),(9.56,-38),(9.62,-20),(9.68,-10),(9.74,-32),(9.80,-44),(9.88,-40),(9.96,-50),(10.04,-54),(10.12,-50),(10.20,-58),(10.30,-52),(10.40,-56),(10.50,-50),(10.60,-58),(10.70,-54),(10.80,-58),(10.90,-62),(11.00,-56),(11.10,-50),(11.20,-46),(11.30,-52),(11.40,-60),(11.50,-72),(11.58,-78),(11.66,-70),(11.74,-62),(11.82,-56),(11.90,-50),(12.00,-52),(12.10,-50),(12.20,-48),(12.30,-52),(12.40,-46),(12.50,-40),(12.60,-34),(12.70,-30),(12.80,-26),(12.86,-8),(12.90,-24),(13.00,-18),(13.10,-22),(13.20,-20),(13.30,-14),(13.40,-18),(13.50,-12),(13.60,-16),(13.70,-10),(13.80,-14),(13.90,-12),(13.98,-14)]

ARTEMIS_THETA = [(0.00,14),(0.06,20),(0.13,28),(0.20,44),(0.29,54),(0.36,56),(0.46,58),(0.56,66),(0.62,68),(0.68,72),(0.78,70),(0.83,74),(0.89,66),(0.94,78),(0.99,86),(1.05,80),(1.10,70),(1.16,60),(1.21,68),(1.27,56),(1.32,50),(1.38,46),(1.43,36),(1.48,26),(1.54,18),(1.60,8),(1.65,2),(1.72,6),(1.80,18),(1.86,24),(1.92,30),(1.98,28),(2.06,34),(2.12,40),(2.19,44),(2.24,38),(2.30,46),(2.40,42),(2.48,44),(2.56,38),(2.64,30),(2.73,14),(2.80,28),(2.88,40),(2.94,44),(3.00,40),(3.08,44),(3.16,38),(3.26,42),(3.36,38),(3.46,40),(3.56,38),(3.66,41),(3.76,39),(3.86,42),(3.96,40),(4.03,44),(4.10,40),(4.20,38),(4.30,36),(4.40,39),(4.50,36),(4.60,38),(4.70,35),(4.80,37),(4.90,34),(5.00,36),(5.10,33),(5.20,35),(5.30,32),(5.40,30),(5.46,10),(5.52,22),(5.60,28),(5.70,30),(5.80,28),(5.90,31),(6.00,30),(6.10,32),(6.20,29),(6.30,33),(6.40,30),(6.50,32),(6.62,28),(6.72,25),(6.82,26),(6.92,24),(7.02,26),(7.12,22),(7.22,25),(7.32,23),(7.42,26),(7.52,24),(7.60,26),(7.66,28),(7.72,30),(7.80,34),(7.88,28),(7.96,20),(8.04,0),(8.12,-20),(8.20,-30),(8.28,-24),(8.36,-40),(8.44,-10),(8.52,0),(8.60,-20),(8.68,-50),(8.74,-70),(8.80,-40),(8.84,30),(8.88,62),(8.92,50),(8.98,20),(9.04,-10),(9.10,-30),(9.16,-50),(9.22,-62),(9.28,-46),(9.34,-58),(9.40,-70),(9.46,-66),(9.52,-48),(9.58,-30),(9.64,-50),(9.70,-62),(9.76,-58),(9.82,-40),(9.88,-52),(9.96,-60),(10.04,-56),(10.12,-62),(10.20,-58),(10.30,-54),(10.40,-60),(10.50,-56),(10.60,-62),(10.70,-58),(10.80,-54),(10.90,-46),(11.00,-50),(11.10,-54),(11.20,-56),(11.30,-58),(11.40,-62),(11.50,-58),(11.60,-54),(11.70,-56),(11.80,-66),(11.88,-60),(11.96,-52),(12.06,-48),(12.16,-50),(12.26,-46),(12.36,-44),(12.46,-40),(12.56,-36),(12.66,-34),(12.76,-30),(12.86,-28),(12.96,-24),(13.06,-20),(13.16,-26),(13.26,-18),(13.36,-22),(13.46,-16),(13.56,-20),(13.66,-14),(13.76,-18),(13.86,-12),(13.98,-16)]

# marked times (hours after start) bounding the high-coherence interval
COHERENCE_BOUNDS = [7.8, 11.5]


# ---------------- helpers ----------------
def fx(px):
    return px / W


def fy(py):
    return 1 - py / H


def stamp(h):
    return (START + pd.to_timedelta(h, unit="h")).strftime("%Y-%m-%d %H:%M:%S")


def unzip(series):
    return [stamp(t) for t, _ in series], [v for _, v in series]


fig = go.Figure()
shapes, annotations = [], []
GRAY = "#808080"

# ---------------- panel A: spacecraft positions ----------------
for k, vert in ((1, POS_Y), (2, POS_Z)):
    xa, ya = ("x", "y") if k == 1 else ("x2", "y2")
    for bx, by in ((BOW_X, BOW_Y), (MP_X, MP_Y)):
        fig.add_trace(go.Scatter(x=bx, y=by, mode="lines", xaxis=xa, yaxis=ya,
                                 line=dict(color="black", width=2.4, dash="2px,2.2px", shape="spline"),
                                 showlegend=False, hoverinfo="skip"))
    for name, px_, pv in zip(POS_NAMES, POS_X, vert):
        fig.add_trace(go.Scatter(x=[px_], y=[pv], mode="markers", xaxis=xa, yaxis=ya,
                                 marker=dict(color=COLORS[name], size=9), showlegend=False))

label_style = {
    "ACE": dict(xanchor="center", size=(13.5, 14.5), bold=True, yshift=3),
    "Wind": dict(xanchor="left", size=(13.5, 16), bold=True, yshift=3),
    "ARTEMIS-P1": dict(xanchor="left", size=(11.5, 11.5), bold=False, yshift=4),
}
for k, vert in ((1, POS_Y), (2, POS_Z)):
    xr, yr = ("x", "y") if k == 1 else ("x2", "y2")
    for name, px_, pv in zip(POS_NAMES, POS_X, vert):
        if name == "Earth":
            continue
        st = label_style[name]
        txt = f"<b>{name}</b>" if st["bold"] else name
        annotations.append(dict(x=px_, y=pv, xref=xr, yref=yr, text=txt, showarrow=False,
                                xanchor=st["xanchor"], yanchor="bottom", yshift=st["yshift"],
                                font=dict(size=st["size"][k - 1], color=COLORS[name], family=FONT)))

# ---------------- panels B-F: time series ----------------
PANELS = [
    dict(letter="B", top=206, bot=288, lety=277, yrange=[5, 23.3], ticks=[5, 10, 15, 20],
         title="N<sub>SW</sub>[cm<sup>-3</sup>]", tcolor="#222222",
         series=[("Wind", WIND_N), ("ARTEMIS-P1", ARTEMIS_N)]),
    dict(letter="C", top=288, bot=368, lety=313, yrange=[280, 326.5], ticks=[280, 300, 320],
         title="|V| (km/s)", tcolor="#9a9a9a",
         series=[("Wind", WIND_V), ("ARTEMIS-P1", ARTEMIS_V), ("ACE", ACE_V)]),
    dict(letter="D", top=368, bot=452, lety=388, yrange=[0, 7.2], ticks=[0, 2, 4, 6],
         title="|B<sub>MF</sub>| [nT]", tcolor="#222222",
         series=[("Wind", WIND_B), ("ARTEMIS-P1", ARTEMIS_B), ("ACE", ACE_B)]),
    dict(letter="E", top=452, bot=534, lety=524, yrange=[0, 356], ticks=[0, 100, 200, 300],
         title="<i>ϕ</i> (°)", tcolor="#9a9a9a", hline=180,
         series=[("Wind", WIND_PHI), ("ARTEMIS-P1", ARTEMIS_PHI), ("ACE", ACE_PHI)]),
    dict(letter="F", top=534, bot=615, lety=604, yrange=[-90, 90], ticks=[-50, 0, 50],
         title="<i>θ</i> (°)", tcolor="#9a9a9a", hline=0,
         series=[("Wind", WIND_THETA), ("ARTEMIS-P1", ARTEMIS_THETA), ("ACE", ACE_THETA)]),
]

layout = {}
X0, XM, X1 = 51.5, 275.5, 499.5

for i, p in enumerate(PANELS, start=3):
    xa, ya = f"x{i}", f"y{i}"
    for name, ser in p["series"]:
        tx, vy = unzip(ser)
        fig.add_trace(go.Scatter(x=tx, y=vy, mode="lines", xaxis=xa, yaxis=ya,
                                 line=dict(color=COLORS[name], width=2), showlegend=False,
                                 connectgaps=False))
    last = i == 2 + len(PANELS)
    layout[f"xaxis{i}"] = dict(domain=[fx(X0), fx(X1)], anchor=ya, type="date", automargin=False,
                               range=[stamp(0), stamp(14)], tick0=stamp(0), dtick=4 * 3600 * 1000,
                               tickformat="%b %d, %H:%M", showticklabels=last,
                               ticklabelstandoff=-3,
                               ticks="inside", ticklen=4, tickcolor=GRAY, showline=True,
                               linecolor=GRAY, linewidth=1, mirror="allticks", showgrid=False,
                               zeroline=False, tickfont=dict(size=11, color="#333", family=FONT))
    layout[f"yaxis{i}"] = dict(domain=[fy(p["bot"]), fy(p["top"])], anchor=xa, side="right",
                               automargin=False, range=p["yrange"], tickvals=p["ticks"],
                               ticks="inside", ticklen=4, tickcolor=GRAY, showline=True,
                               linecolor=GRAY, linewidth=1, mirror="allticks", showgrid=False,
                               zeroline=False, tickfont=dict(size=11, color="#555", family=FONT))
    annotations.append(dict(text=p["letter"], x=fx(70), y=fy(p["lety"]),
                            xref="paper", yref="paper", showarrow=False, xanchor="center",
                            yanchor="middle", font=dict(size=23, color="black", family=FONT)))
    annotations.append(dict(text=p["title"], x=fx(534), y=fy((p["top"] + p["bot"]) / 2),
                            xref="paper", yref="paper", showarrow=False, textangle=-90,
                            xanchor="center", yanchor="middle",
                            font=dict(size=12.5, color=p["tcolor"], family=FONT)))
    if "hline" in p:
        shapes.append(dict(type="line", xref=f"{xa} domain", yref=ya, x0=0, x1=1,
                           y0=p["hline"], y1=p["hline"],
                           line=dict(color="#9a9a9a", width=1, dash="dot")))

for h in COHERENCE_BOUNDS:
    shapes.append(dict(type="line", xref="x7", yref="paper", x0=stamp(h), x1=stamp(h),
                       y0=fy(615), y1=fy(206), line=dict(color="#a0a0a0", width=1, dash="dot")))

# ---------------- top axes ----------------
top_common = dict(ticks="inside", ticklen=3, tickcolor=GRAY, showline=True, linecolor=GRAY,
                  linewidth=1, mirror="allticks", showgrid=True, gridcolor="#e6e6e6",
                  zeroline=False, automargin=False,
                  tickfont=dict(size=11, color="#555", family=FONT))
layout["xaxis"] = dict(domain=[fx(X0), fx(XM)], anchor="y", side="top", range=[-20, 280],
                       tickvals=[0, 50, 100, 150, 200, 250], **top_common)
layout["yaxis"] = dict(domain=[fy(206), fy(43)], anchor="x", side="left", range=[-60, 60],
                       dtick=20, **top_common)
layout["xaxis2"] = dict(domain=[fx(XM), fx(X1)], anchor="y2", side="top", range=[-20, 280],
                        tickvals=[0, 50, 100, 150, 200, 250], **top_common)
layout["yaxis2"] = dict(domain=[fy(206), fy(43)], anchor="x2", side="right", range=[-60, 60],
                        dtick=20, **top_common)

shapes.append(dict(type="line", xref="paper", yref="paper", x0=fx(XM), x1=fx(XM),
                   y0=fy(206), y1=fy(43), line=dict(color="#333333", width=2)))

for cx in ((X0 + XM) / 2, (XM + X1) / 2):
    annotations.append(dict(text="X<sub>GSE</sub> (R<sub>E</sub>)", x=fx(cx), y=fy(17),
                            xref="paper", yref="paper", showarrow=False, xanchor="center",
                            yanchor="middle", font=dict(size=14, color="#404040", family=FONT)))
annotations.append(dict(text="Y<sub>GSE</sub> (R<sub>E</sub>)", x=fx(17), y=fy(124),
                        xref="paper", yref="paper", showarrow=False, textangle=-90,
                        xanchor="center", yanchor="middle",
                        font=dict(size=14, color="#404040", family=FONT)))
annotations.append(dict(text="Z<sub>GSE</sub> (R<sub>E</sub>)", x=fx(533), y=fy(120),
                        xref="paper", yref="paper", showarrow=False, textangle=-90,
                        xanchor="center", yanchor="middle",
                        font=dict(size=14, color="#404040", family=FONT)))
annotations.append(dict(text="A", x=fx(70), y=fy(67), xref="paper", yref="paper",
                        showarrow=False, xanchor="center", yanchor="middle",
                        font=dict(size=24, color="black", family=FONT)))

# ---------------- legend box (drawn) ----------------
shapes.append(dict(type="rect", xref="paper", yref="paper", x0=fx(405), x1=fx(500),
                   y0=fy(200.5), y1=fy(155.5), line=dict(color="black", width=1),
                   fillcolor="white"))
legend_rows = [163.3, 173.7, 184.0, 194.7]
for name, row in zip(POS_NAMES, legend_rows):
    col = COLORS[name]
    if name != "Earth":
        lcol = "#ff8c8c" if name == "ARTEMIS-P1" else col
        shapes.append(dict(type="line", xref="paper", yref="paper", x0=fx(410), x1=fx(445),
                           y0=fy(row), y1=fy(row), line=dict(color=lcol, width=1)))
    shapes.append(dict(type="circle", xref="paper", yref="paper", xsizemode="pixel",
                       ysizemode="pixel", xanchor=fx(425), yanchor=fy(row), x0=-4, x1=4,
                       y0=-4, y1=4, fillcolor=col, line=dict(width=0)))
    small = name == "ARTEMIS-P1"
    annotations.append(dict(text=name, x=fx(438 if small else 446), y=fy(row), xref="paper",
                            yref="paper", showarrow=False, xanchor="left", yanchor="middle",
                            borderpad=0,
                            font=dict(size=7.5 if small else 9.5, color="#222", family=FONT)))

# ---------------- text notes and arrows ----------------
annotations.append(dict(text="Region of High Coherence<br>between Wind and ARTEMIS-P1",
                        x=fx(296), y=fy(224), xref="paper", yref="paper", showarrow=False,
                        xanchor="left", yanchor="middle", align="left",
                        font=dict(size=11, color="#222", family=FONT)))
annotations.append(dict(text="HCS crossing", x=fx(125), y=fy(465), xref="paper", yref="paper",
                        showarrow=False, xanchor="center", yanchor="middle",
                        font=dict(size=11.5, color="#333", family=FONT)))
annotations.append(dict(text="", x=stamp(1.47), y=184, xref="x6", yref="y6", showarrow=True,
                        ax=23, ay=-15, arrowhead=2, arrowsize=1, arrowwidth=2,
                        arrowcolor="#1f5f7a"))
annotations.append(dict(text="ACE shows mismatching<br>HCS crossing", x=fx(404), y=fy(466),
                        xref="paper", yref="paper", showarrow=False, xanchor="center",
                        yanchor="middle", align="center",
                        font=dict(size=11.5, color="#222", family=FONT)))
annotations.append(dict(text="", x=stamp(9.05), y=222, xref="x6", yref="y6", showarrow=True,
                        ax=13, ay=-17, arrowhead=2, arrowsize=1, arrowwidth=2,
                        arrowcolor="#ff0000"))

fig.update_layout(template="none", width=W, height=H, autosize=False,
                  margin=dict(l=0, r=0, t=0, b=0, pad=0),
                  paper_bgcolor="white", plot_bgcolor="white", showlegend=False,
                  font=dict(family=FONT), shapes=shapes, annotations=annotations, **layout)

fig.write_html("out.html")
